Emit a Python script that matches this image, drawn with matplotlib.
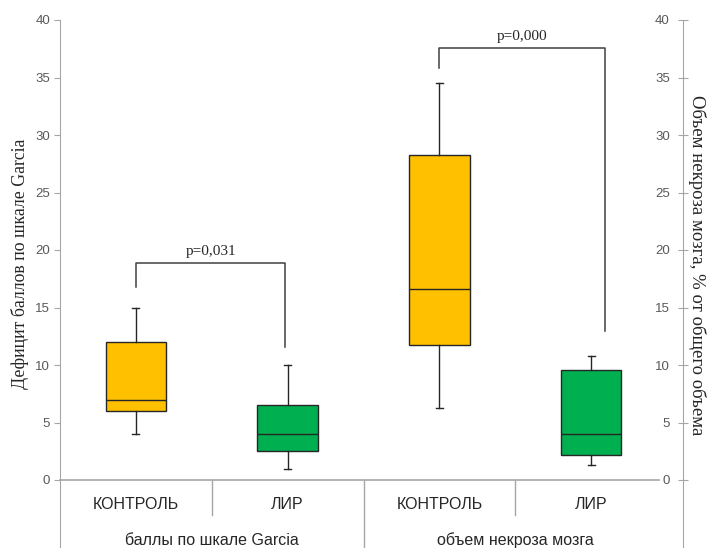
import matplotlib
matplotlib.use("Agg")
import matplotlib.pyplot as plt

# box plot statistics
groups = ["баллы по шкале Garcia", "объем некроза мозга"]
categories = ["КОНТРОЛЬ", "ЛИР", "КОНТРОЛЬ", "ЛИР"]
whislo = [4.0, 1.0, 6.3, 1.3]
q1 = [6.0, 2.5, 11.7, 2.2]
med = [7.0, 4.0, 16.6, 4.0]
q3 = [12.0, 6.5, 28.3, 9.6]
whishi = [15.0, 10.0, 34.5, 10.8]
colors = ["#FFC000", "#00B050", "#FFC000", "#00B050"]

# significance brackets: (x left, x right, y top, y left leg, y right leg, text)
brackets = [
    (0.5, 1.485, 18.9, 16.8, 11.6, "p=0,031"),
    (2.5, 3.59, 37.6, 35.8, 13.0, "p=0,000"),
]
yticks = [0, 5, 10, 15, 20, 25, 30, 35, 40]

sans = ["Liberation Sans", "DejaVu Sans"]
serif = ["Liberation Serif", "DejaVu Serif"]
axis_gray = "#A6A6A6"
text_gray = "#595959"

fig = plt.figure(figsize=(7.1, 5.48), dpi=100)
ax = fig.add_axes([60 / 710, 0.0, 607 / 710, 528 / 548])
ymin = -68 / 11.5
ax.set_xlim(0, 4)
ax.set_ylim(ymin, 40)

positions = [0.5, 1.5, 2.5, 3.5]
stats = []
for i in range(4):
    stats.append({"whislo": whislo[i], "q1": q1[i], "med": med[i],
                  "q3": q3[i], "whishi": whishi[i], "fliers": []})
bp = ax.bxp(stats, positions=positions, widths=0.4, capwidths=0.045,
            patch_artist=True, showfliers=False,
            boxprops=dict(edgecolor="#262626", linewidth=1.0),
            medianprops=dict(color="#262626", linewidth=1.0),
            whiskerprops=dict(color="#262626", linewidth=1.0),
            capprops=dict(color="#262626", linewidth=1.0))
for patch, c in zip(bp["boxes"], colors):
    patch.set_facecolor(c)

# brackets
for xl, xr, ytop, yl, yr, txt in brackets:
    ax.plot([xl, xl, xr, xr], [yl, ytop, ytop, yr], color="#404040", lw=1.1)
    ax.text((xl + xr) / 2, ytop + 0.4, txt, ha="center", va="bottom",
            fontsize=11, family=serif, color="#262626")

# baseline and category separators
ax.plot([0, 3.95], [0, 0], color=axis_gray, lw=1.2, clip_on=False)
for x in [1, 3]:
    ax.plot([x, x], [0, -3.05], color=axis_gray, lw=1.0)
ax.plot([2, 2], [0, ymin], color=axis_gray, lw=1.0)
for x, lab in zip(positions, categories):
    ax.text(x, -2.1, lab, ha="center", va="center", fontsize=11.5,
            family=sans, color="#262626")
for x, lab in zip([1, 3], groups):
    ax.text(x, -5.25, lab, ha="center", va="center", fontsize=11.5,
            family=sans, color="#262626")

# left axis
for s in ["top", "bottom", "right"]:
    ax.spines[s].set_visible(False)
ax.spines["left"].set_color(axis_gray)
ax.set_xticks([])
ax.set_yticks(yticks)
ax.set_yticklabels([str(t) for t in yticks], family=sans)
ax.tick_params(axis="y", colors=axis_gray, labelcolor=text_gray,
               labelsize=9.5, length=4, pad=3)

# right axis (labels sit inside, next to the spine)
ax2 = ax.twinx()
ax2.set_ylim(ymin, 40)
for s in ["top", "bottom", "left"]:
    ax2.spines[s].set_visible(False)
ax2.spines["right"].set_position(("outward", 11.5))
ax2.spines["right"].set_color(axis_gray)
ax2.set_yticks(yticks, [str(t) for t in yticks], ha="right", family=sans)
ax2.tick_params(axis="y", direction="inout", colors=axis_gray,
                labelcolor=text_gray, labelsize=9.5, length=7, pad=-13)

fig.text(20 / 710, 1 - 264 / 548, "Дефицит баллов по шкале Garcia",
         rotation=90, ha="center", va="center", fontsize=12.8,
         family=serif, color="#262626")
fig.text(697 / 710, 1 - 265 / 548, "Объем некроза мозга, % от общего объема",
         rotation=-90, ha="center", va="center", fontsize=13.5,
         family=serif, color="#262626")

fig.savefig("out.png", dpi=100)
